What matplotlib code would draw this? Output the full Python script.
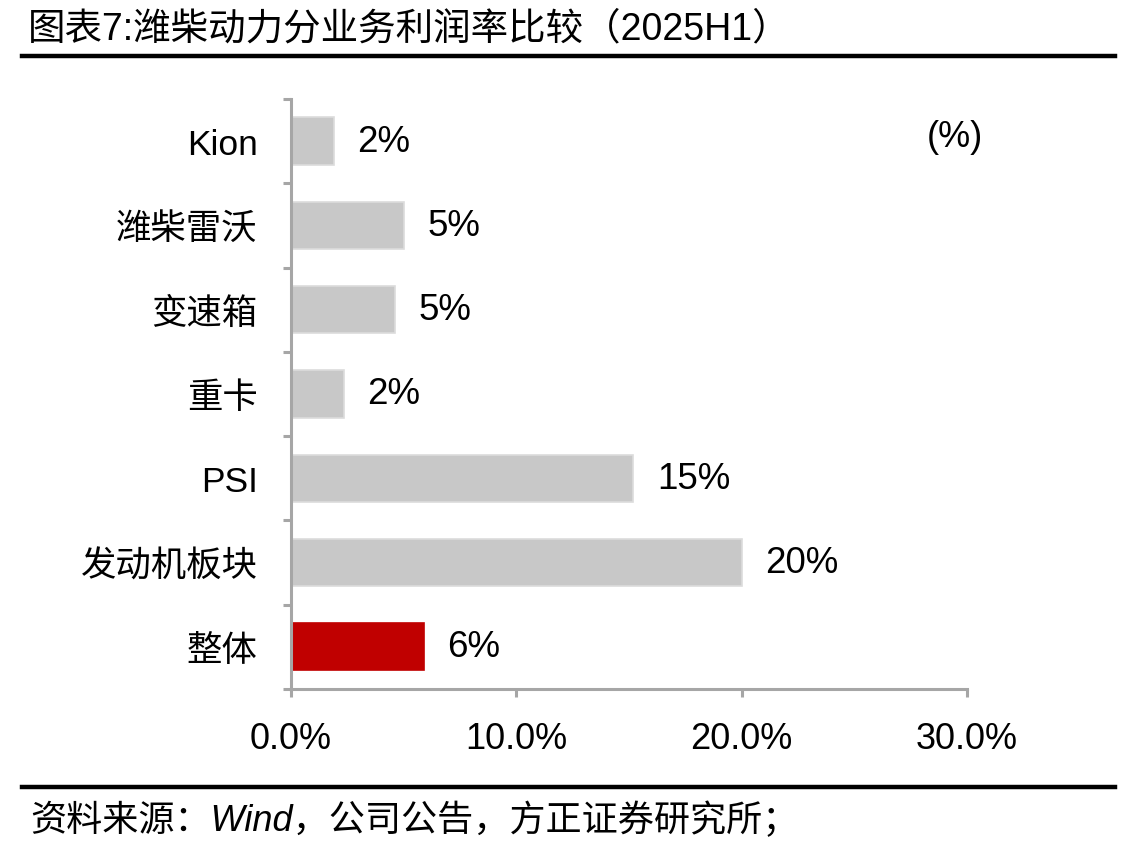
import matplotlib.pyplot as plt
from matplotlib.ticker import FuncFormatter

plt.rcParams['font.family'] = ['Liberation Sans', 'Noto Sans CJK SC']

# -----------------------------
# Data (2025H1 profit margin by segment, %)
# -----------------------------
segments = ['Kion', '潍柴雷沃', '变速箱', '重卡', 'PSI', '发动机板块', '整体']
margins = [1.9, 5.0, 4.6, 2.35, 15.2, 20.0, 5.9]
bar_labels = ['2%', '5%', '5%', '2%', '15%', '20%', '6%']
xticks = [0, 10, 20, 30]

colors = ['#c8c8c8'] * (len(segments) - 1) + ['#c00000']
edges = ['#dcdcdc'] * (len(segments) - 1) + ['#c00000']

# -----------------------------
# Figure
# -----------------------------
fig = plt.figure(figsize=(11.34, 8.54), dpi=100)
ax = fig.add_axes([0.2566, 0.192, 0.596, 0.691])

ypos = list(range(len(segments)))[::-1]
ax.barh(ypos, margins, height=0.56, color=colors, edgecolor=edges, linewidth=1.2)

for y, v, lab in zip(ypos, margins, bar_labels):
    ax.annotate(lab, (v, y), xytext=(17, 0), textcoords='offset points',
                ha='left', va='center', fontsize=26.5, color='black')

ax.set_xlim(0, 30)
ax.set_ylim(-0.5, len(segments) - 0.5)
ax.set_xticks(xticks)
ax.xaxis.set_major_formatter(FuncFormatter(lambda v, p: f'{v:.1f}%'))
ax.set_yticks(ypos)
ax.set_yticklabels(segments)
# ticks sit on category boundaries, labels in the middle
ax.set_yticks([i - 0.5 for i in range(len(segments) + 1)], minor=True)
ax.tick_params(axis='y', which='major', length=0, pad=24, labelsize=25.5)
ax.tick_params(axis='y', which='minor', length=6, width=2.2, color='#a6a6a6')
ax.tick_params(axis='x', length=6, width=2.2, color='#a6a6a6', pad=17, labelsize=26)

for side in ['top', 'right']:
    ax.spines[side].set_visible(False)
for side in ['left', 'bottom']:
    ax.spines[side].set_color('#a6a6a6')
    ax.spines[side].set_linewidth(2.2)

ax.text(0.982, 0.937, '(%)', transform=ax.transAxes, ha='center', va='center', fontsize=26)

# title, rules and source
fig.text(0.025, 0.966, '图表7:潍柴动力分业务利润率比较（2025H1）', ha='left', va='center', fontsize=27)
fig.add_artist(plt.Line2D([0.019, 0.983], [0.933, 0.933], color='black', linewidth=3.2))
fig.add_artist(plt.Line2D([0.019, 0.983], [0.077, 0.077], color='black', linewidth=3.2))
fig.text(0.027, 0.039, '资料来源：Wind，公司公告，方正证券研究所；', ha='left', va='center',
         fontsize=26, style='italic')

fig.savefig('out.png', dpi=100)
